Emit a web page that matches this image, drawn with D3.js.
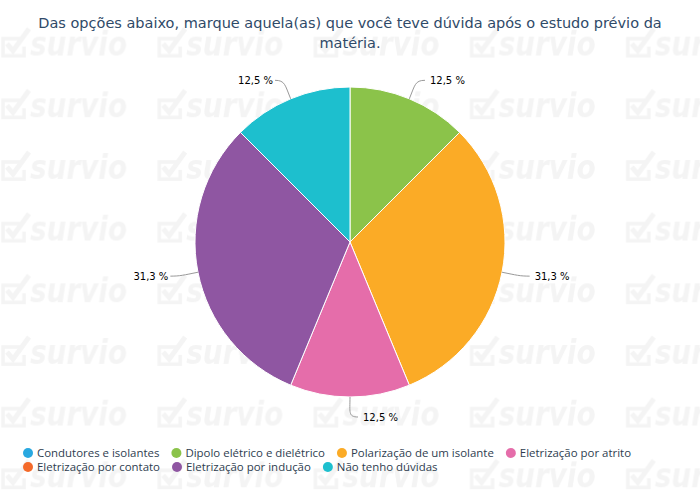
<!DOCTYPE html>
<html><head><meta charset="utf-8">
<script src="https://cdn.jsdelivr.net/npm/d3@7"></script>
<style>html,body{margin:0;padding:0;background:#fff;}svg{display:block;}</style>
</head><body>
<svg id="chart" width="700" height="494"></svg>
<script>
const titleLines = ["Das opções abaixo, marque aquela(as) que você teve dúvida após o estudo prévio da", "matéria."];
const categories = ["Condutores e isolantes","Dipolo elétrico e dielétrico","Polarização de um isolante","Eletrização por atrito","Eletrização por contato","Eletrização por indução","Não tenho dúvidas"];
const counts = [0, 2, 5, 2, 0, 5, 2];
const colors = ["#29a8e0","#8bc34a","#fbab26","#e56daa","#f46a2a","#8f56a2","#1dbfce"];

const svg = d3.select("#chart");
const W = 700, H = 494;

// watermark as a tiled pattern
const wmColor = "#f4f4f4";
const pat = svg.append("defs").append("pattern").attr("id","wm")
  .attr("patternUnits","userSpaceOnUse").attr("x",0).attr("y",26.7)
  .attr("width",156.2).attr("height",61.67);
pat.append("path").attr("d","M22,12 L3,12 L3,29 L24,29 L24,20")
  .attr("stroke",wmColor).attr("stroke-width",3.5).attr("fill","none");
pat.append("path").attr("d","M7,17 L13,24 L29,2")
  .attr("stroke",wmColor).attr("stroke-width",5).attr("fill","none");
pat.append("text").attr("x",30).attr("y",29).text("survio")
  .attr("font-family","DejaVu Sans").attr("font-weight","bold").attr("font-style","italic")
  .attr("font-size",33).attr("textLength",97).attr("lengthAdjust","spacingAndGlyphs")
  .attr("fill",wmColor);
svg.append("rect").attr("width",W).attr("height",H).attr("fill","url(#wm)");

// title
svg.append("text").attr("x", W/2).attr("y", 28).attr("text-anchor","middle")
  .attr("font-family","DejaVu Sans").attr("font-size",14.5).attr("fill","#2f4a68")
  .selectAll("tspan").data(titleLines).join("tspan")
  .attr("x", W/2).attr("dy",(d,i)=> i===0?0:19.5).text(d=>d);

// pie
const cx = 350, cy = 242, R = 155;
const total = d3.sum(counts);
const data = categories.map((c,i)=>({name:c, value:counts[i], color:colors[i]}));
const pie = d3.pie().sort(null).value(d=>d.value);
const arcs = pie(data);
const arc = d3.arc().innerRadius(0).outerRadius(R);
const pg = svg.append("g").attr("transform",`translate(${cx},${cy})`);
pg.selectAll("path.slice").data(arcs.filter(a=>a.data.value>0)).join("path")
  .attr("class","slice").attr("d",arc).attr("fill",d=>d.data.color)
  .attr("stroke","#fff").attr("stroke-width",1);

// labels
const fmt = v => d3.format(".1f")(v).replace(".",",") + " %";
const lab = pg.append("g");
arcs.filter(a=>a.data.value>0).forEach(a=>{
  const ang = (a.startAngle + a.endAngle)/2;
  const sx = Math.sin(ang), sy = -Math.cos(ang);
  const right = sx >= -1e-6;
  const p0 = [R*sx, R*sy];
  const c1 = [(R+15)*sx, (R+15)*sy];
  const ax = (R+20)*sx, ay = (R+20)*sy;
  const dir = right ? 1 : -1;
  const end = [ax + dir*8, ay];
  const c2 = [ax - dir*2, ay];
  lab.append("path").attr("d",`M${p0[0]},${p0[1]} C${c1[0]},${c1[1]} ${c2[0]},${c2[1]} ${end[0]},${end[1]}`)
    .attr("fill","none").attr("stroke","#999").attr("stroke-width",1);
  lab.append("text").attr("x", ax + (right?13:-10)).attr("y", ay).attr("dy","0.35em")
    .attr("text-anchor", right?"start":"end")
    .attr("font-family","DejaVu Sans").attr("font-size",10).attr("fill","#000")
    .text(fmt(a.data.value/total*100));
});

// legend
const lg = svg.append("g");
let lx = 23, ly = 453; const maxX = 680;
data.forEach((d,i)=>{
  const it = lg.append("g");
  it.append("circle").attr("cx",5).attr("cy",0).attr("r",5).attr("fill",d.color);
  const t = it.append("text").attr("x",14).attr("y",0).attr("dy","0.35em")
    .attr("font-family","Open Sans").attr("font-size",11.45).attr("fill","#2e3d4f").text(d.name);
  const w = 14 + t.node().getComputedTextLength();
  if (lx + w > maxX) { lx = 23; ly += 14; }
  it.attr("transform",`translate(${lx},${ly})`);
  lx += w + 12;
});
</script>
</body></html>
